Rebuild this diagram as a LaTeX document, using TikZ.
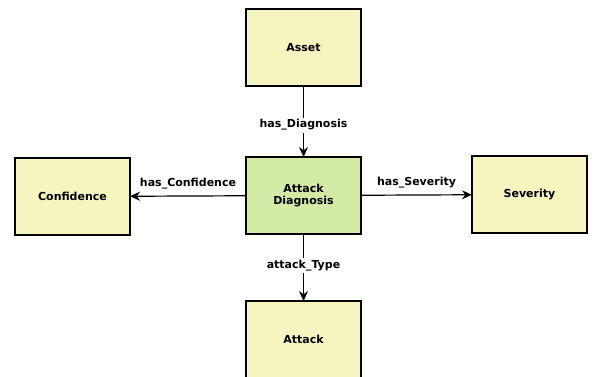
\documentclass[tikz,border=0pt]{standalone}
\usepackage{fontspec}
\setmainfont{DejaVu Sans}
\usetikzlibrary{positioning,arrows.meta}
\definecolor{conceptyellow}{HTML}{F7F5BF}
\definecolor{conceptgreen}{HTML}{D3EBA5}

\begin{document}
\begin{tikzpicture}[
    x=1pt, y=1pt,
    node distance=71pt and 116pt,
 concept/.style = {
        draw, rectangle, align=center, line width=1.2pt,
        minimum width=115pt, minimum height=77pt,
        fill=conceptyellow, font=\fontsize{11}{12.5}\selectfont\bfseries,
        inner sep=2pt, outer sep=0pt},
 relation/.style = {
        font=\fontsize{11}{12.5}\selectfont\bfseries, inner sep=2pt},
    arrow/.style = {line width=1.2pt,-{Stealth[length=10pt,width=9pt]}}
                    ]
\useasboundingbox (0,0) rectangle (596,-376);
% the central node
\node (diag) [concept, fill=conceptgreen] at (303.5,-195.5) {Attack\\ Diagnosis};
% the nodes round it
\node (asset) [concept, above=71pt of diag]                     {Asset};
\node (attack) [concept, below=67pt of diag]                    {Attack};
\node (conf) [concept, left=116pt of diag, yshift=-1pt]        {Confidence};
\node (sev) [concept, right=111pt of diag, yshift=1pt]         {Severity};
% the relations
\draw[arrow] (asset) -- node[relation, fill=white, pos=0.55] {has\_Diagnosis} (diag);
\draw[arrow] (diag) -- node[relation, fill=white, pos=0.47] {attack\_Type} (attack);
\draw[arrow] (diag) -- node[relation, above=4pt] {has\_Confidence} (conf);
\draw[arrow] (diag) -- node[relation, above=4pt] {has\_Severity} (sev);
\end{tikzpicture}
\end{document}
